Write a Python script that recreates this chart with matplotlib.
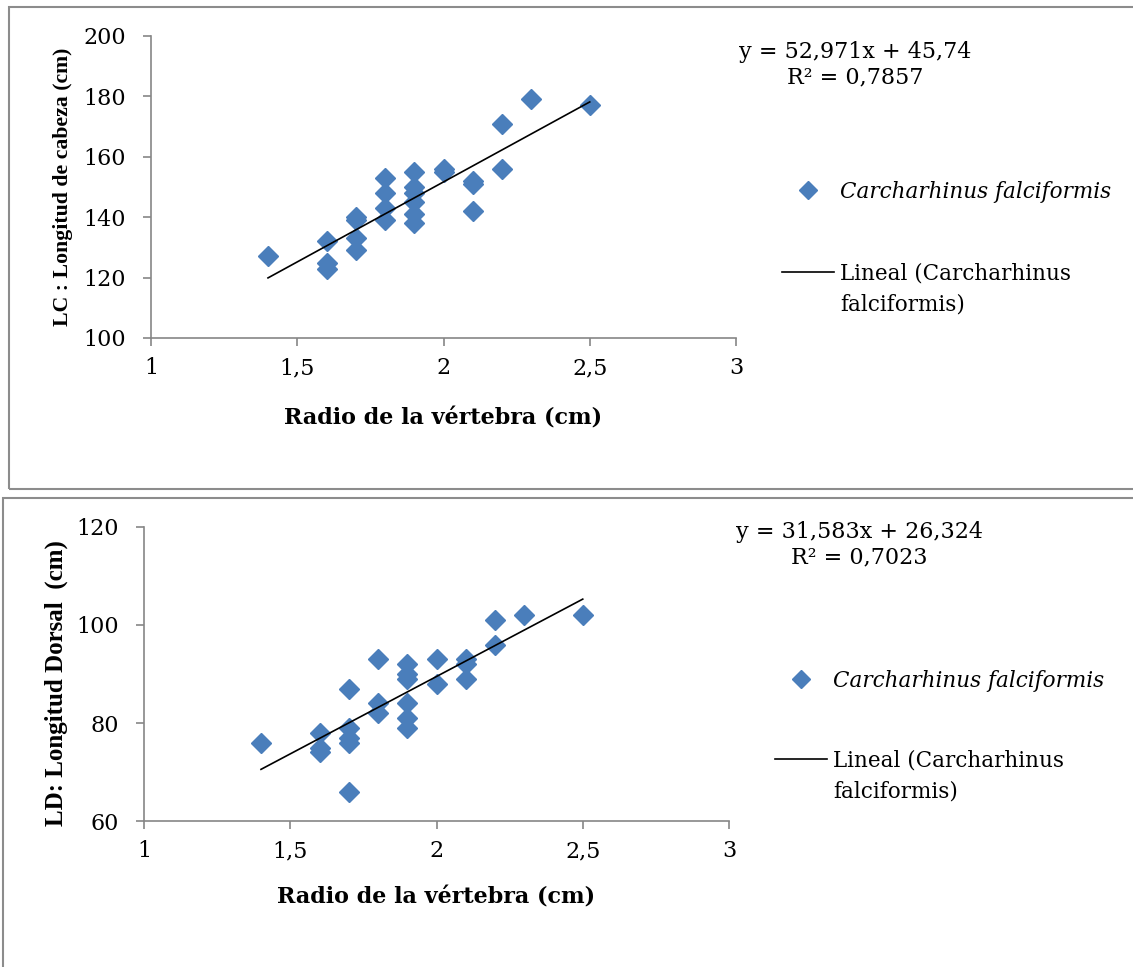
import matplotlib
matplotlib.use("Agg")
import matplotlib.pyplot as plt
from matplotlib.lines import Line2D
from matplotlib.patches import Rectangle
import numpy as np

plt.rcParams["font.family"] = ["DejaVu Serif"]

# data
radio_lc = [1.4, 1.6, 1.6, 1.6, 1.7, 1.7, 1.7, 1.7, 1.8, 1.8, 1.8, 1.8,
            1.9, 1.9, 1.9, 1.9, 1.9, 1.9, 2.0, 2.0, 2.1, 2.1, 2.1,
            2.2, 2.2, 2.3, 2.5]
lc = [127, 132, 125, 123, 140, 139, 133, 129, 153, 148, 143, 139,
      155, 150, 148, 145, 141, 138, 156, 155, 152, 151, 142,
      171, 156, 179, 177]

radio_ld = [1.4, 1.6, 1.6, 1.6, 1.7, 1.7, 1.7, 1.7, 1.7, 1.8, 1.8, 1.8,
            1.9, 1.9, 1.9, 1.9, 1.9, 1.9, 2.0, 2.0, 2.1, 2.1, 2.1,
            2.2, 2.2, 2.3, 2.5]
ld = [76, 78, 75, 74, 87, 79, 77, 76, 66, 93, 84, 82,
      92, 90, 89, 84, 81, 79, 93, 88, 93, 92, 89,
      101, 96, 102, 102]

# trend lines as printed on the chart
lc_slope, lc_intercept, lc_r2 = 52.971, 45.74, 0.7857
ld_slope, ld_intercept, ld_r2 = 31.583, 26.324, 0.7023

x_ticks = [1, 1.5, 2, 2.5, 3]
x_ticklabels = ["1", "1,5", "2", "2,5", "3"]
lc_ticks = [100, 120, 140, 160, 180, 200]
ld_ticks = [60, 80, 100, 120]

species = "Carcharhinus falciformis"
blue = "#4A7EBB"
gray = "#868686"
W, H = 1133, 967


def fx(px):
    return px / W


def fy(py):
    return 1 - py / H


fig = plt.figure(figsize=(W / 100, H / 100), dpi=100)

# panel frames
fig.add_artist(Rectangle((fx(9), fy(489)), 1.2, fy(7) - fy(489), transform=fig.transFigure,
                         fill=False, edgecolor="#8c8c8c", lw=1.5))
fig.add_artist(Rectangle((fx(3), -0.2), 1.2, fy(497.5) + 0.2, transform=fig.transFigure,
                         fill=False, edgecolor="#8c8c8c", lw=1.5))


def panel(rect, xs, ys, slope, intercept, r2, yticks, ylabel, ylabel_size, ylabel_xy,
          xlabel_pad, eq_pos, leg_x, leg_y1, leg_y2):
    ax = fig.add_axes(rect)
    ax.plot(xs, ys, linestyle="none", marker="D", ms=10.5, color=blue, mec=blue)
    xl = np.array([min(xs), max(xs)])
    ax.plot(xl, slope * xl + intercept, color="black", lw=1.2)

    ax.set_xlim(x_ticks[0], x_ticks[-1])
    ax.set_ylim(yticks[0], yticks[-1])
    ax.set_xticks(x_ticks)
    ax.set_xticklabels(x_ticklabels)
    ax.set_yticks(yticks)
    for s in ["top", "right"]:
        ax.spines[s].set_visible(False)
    for s in ["left", "bottom"]:
        ax.spines[s].set_color(gray)
        ax.spines[s].set_linewidth(1.2)
    ax.tick_params(axis="both", colors=gray, labelcolor="black", width=1.2, length=6,
                   labelsize=16)
    ax.tick_params(axis="y", pad=12)
    ax.tick_params(axis="x", pad=8)
    ax.set_xlabel("Radio de la vértebra (cm)", fontsize=16, fontweight="bold",
                  labelpad=xlabel_pad)
    ax.set_ylabel(ylabel, fontsize=ylabel_size, fontweight="bold",
                  family=["Liberation Serif", "DejaVu Serif"])
    ax.yaxis.set_label_coords(*ylabel_xy)

    eq = "y = {}x + {}\nR² = {}".format(str(slope).replace(".", ","),
                                        str(intercept).replace(".", ","),
                                        str(r2).replace(".", ","))
    fig.text(fx(eq_pos[0]), fy(eq_pos[1]), eq, ha="center", va="center", fontsize=16,
             multialignment="center")

    h_pts = Line2D([], [], linestyle="none", marker="D", ms=9, color=blue)
    leg1 = ax.legend([h_pts], [species], loc="center left",
                     bbox_to_anchor=(fx(leg_x), fy(leg_y1)), bbox_transform=fig.transFigure,
                     frameon=False, borderpad=0, borderaxespad=0, handlelength=2.4,
                     handletextpad=0.3, prop={"size": 15.5, "style": "italic"})
    ax.add_artist(leg1)
    h_line = Line2D([], [], color="black", lw=1.2)
    h_none = Line2D([], [], linestyle="none")
    ax.legend([h_line, h_none], ["Lineal (Carcharhinus", "falciformis)"], loc="center left",
              bbox_to_anchor=(fx(leg_x), fy(leg_y2)), bbox_transform=fig.transFigure,
              frameon=False, borderpad=0, borderaxespad=0, handlelength=2.4,
              handletextpad=0.3, labelspacing=0.4, prop={"size": 15.5})
    return ax


panel([fx(151), fy(338), fx(736) - fx(151), fy(36) - fy(338)], radio_lc, lc,
      lc_slope, lc_intercept, lc_r2, lc_ticks, "LC : Longitud de cabeza (cm)", 15.7,
      (-0.133, 0.5), 20, (855, 65), 782, 192, 289)
panel([fx(144), fy(821), fx(729) - fx(144), fy(527) - fy(821)], radio_ld, ld,
      ld_slope, ld_intercept, ld_r2, ld_ticks, "LD: Longitud Dorsal  (cm)", 18,
      (-0.130, 0.47), 17, (859, 545), 775, 681, 776)

fig.savefig("out.png", dpi=100)
